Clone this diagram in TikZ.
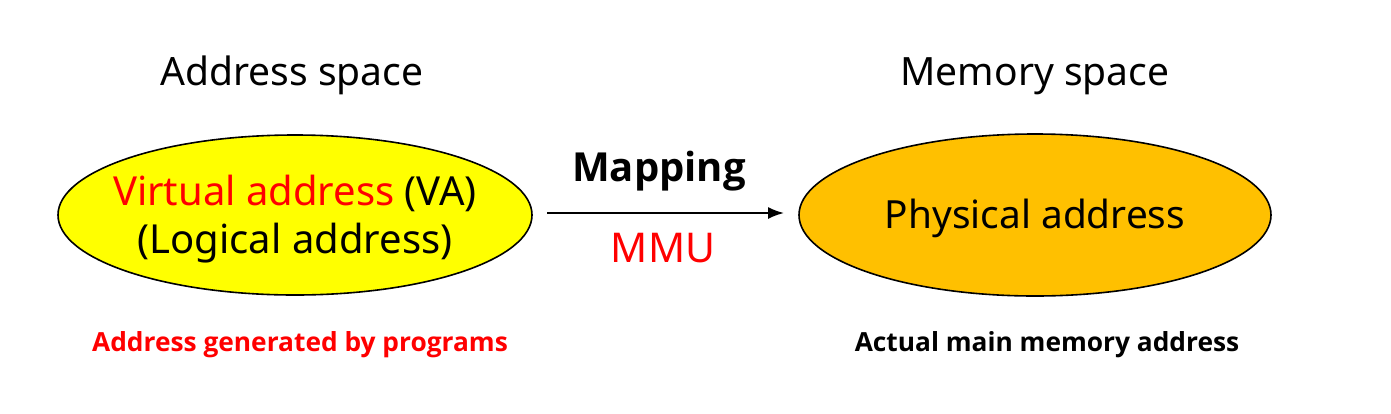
\documentclass[tikz,border=0pt]{standalone}
\usepackage{fontspec}
\setmainfont{Noto Sans}[BoldFont={Open Sans Bold}]
\usetikzlibrary{arrows.meta}
\definecolor{vyellow}{RGB}{255,255,0}
\definecolor{porange}{RGB}{255,192,0}
\definecolor{vred}{RGB}{255,0,0}
\begin{document}
\begin{tikzpicture}[x=1pt,y=-1pt,
  title/.style={font=\fontsize{39}{44}\selectfont, anchor=base},
  inner/.style={font=\fontsize{40}{48}\selectfont, align=center},
  note/.style={font=\bfseries\fontsize{26.3}{30}\selectfont, anchor=base}]
\useasboundingbox (0,0) rectangle (1391,413);
\fill[white] (0,0) rectangle (1391,413);
% ellipses
\draw[fill=vyellow, line width=1.6pt] (295,215) ellipse [x radius=237, y radius=80];
\draw[fill=porange, line width=1.6pt] (1035,215) ellipse [x radius=236, y radius=81];
% titles
\node[title] (t1) at (292,85) {Address space};
\node[title] (t2) at (1035,85) {Memory space};
% inner texts
\node[inner, anchor=base] (va) at (295,205) {\textcolor{vred}{Virtual address} (VA)};
\node[inner, anchor=base] (la) at (295,253) {(Logical address)};
\node[font=\fontsize{38.8}{44}\selectfont, anchor=base] (pa) at (1035,228) {Physical address};
% arrow
\coordinate (a1) at (547,213);
\coordinate (a2) at (784,213);
\draw[line width=1.8pt, -{Latex[length=16pt,width=12pt]}] (a1) -- (a2);
\node[font=\bfseries\fontsize{40}{46}\selectfont, anchor=base] (map) at (659,181) {Mapping};
\node[font=\fontsize{41}{46}\selectfont, anchor=base, text=vred] (mmu) at (663,262) {MMU};
% notes
\node[note, text=vred] (n1) at (300,351) {Address generated by programs};
\node[note] (n2) at (1047,351) {Actual main memory address};
\end{tikzpicture}
\end{document}
